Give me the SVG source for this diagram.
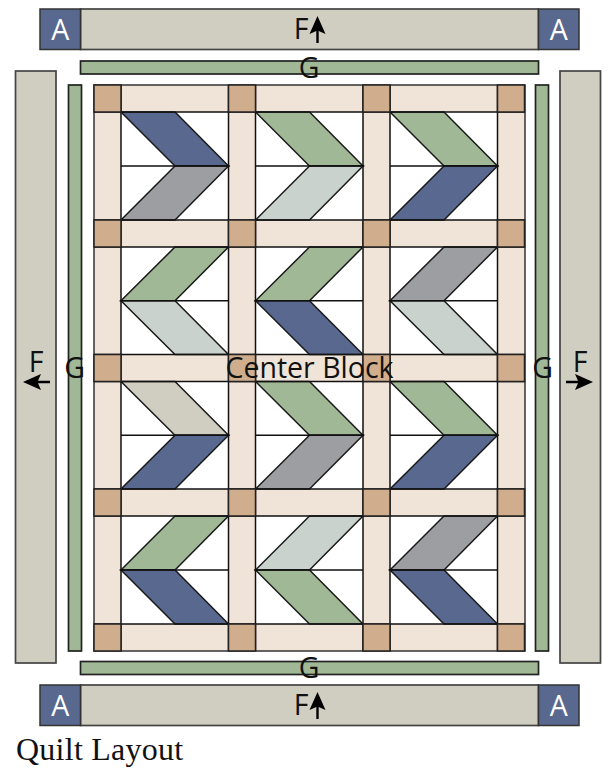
<svg xmlns="http://www.w3.org/2000/svg" xmlns:xlink="http://www.w3.org/1999/xlink" width="608" height="768" viewBox="0 0 608 768">
<style>
.s{stroke:#1a1a1a;stroke-width:1.500}
.g{stroke:#222;stroke-width:1.700;fill:#a0b896}
.b{stroke:#444;stroke-width:1.700;fill:#d0cdc1}
.n{fill:#58688f}.gr{fill:#a0b896}.y{fill:#9c9ea2}.l{fill:#c9d2cc}.e{fill:#d0cdc1}
.sash{fill:#f0e3d7;stroke:#333;stroke-width:1.500}
.cs{fill:#cfad8d;stroke:#222;stroke-width:1.500}
.t{font-family:"Open Sans",sans-serif;font-size:28.500px;fill:#111;text-anchor:middle}
.w{fill:#fff}
</style>
<defs>
<path id="up" d="M-1.200 11V-1L-8 2L0 -16L8 2L1.200 -1V11Z" fill="#000"/>
</defs>
<g id="border-top-f"><rect class="b" x="80.500" y="9" width="458" height="40.500"/></g>
<g id="border-top-a1"><rect x="40" y="9" width="40.500" height="40.500" class="n" stroke="#333" stroke-width="1.500"/><text x="60.300" y="40" class="t" style="fill:#fff">A</text></g>
<g id="border-top-a2"><rect x="538.500" y="9" width="40.500" height="40.500" class="n" stroke="#333" stroke-width="1.500"/><text x="558.800" y="40" class="t" style="fill:#fff">A</text></g>
<g id="border-bottom-f"><rect class="b" x="80.500" y="685" width="458" height="40.500"/></g>
<g id="border-bottom-a1"><rect x="40" y="685" width="40.500" height="40.500" class="n" stroke="#333" stroke-width="1.500"/><text x="60.300" y="716" class="t" style="fill:#fff">A</text></g>
<g id="border-bottom-a2"><rect x="538.500" y="685" width="40.500" height="40.500" class="n" stroke="#333" stroke-width="1.500"/><text x="558.800" y="716" class="t" style="fill:#fff">A</text></g>
<g id="border-left-f"><rect class="b" x="15.500" y="71" width="40.500" height="592"/></g>
<g id="border-right-f"><rect class="b" x="560" y="71" width="40.500" height="592"/></g>
<g id="border-top-g"><rect class="g" x="80.500" y="61" width="458" height="13"/></g>
<g id="border-bottom-g"><rect class="g" x="80.500" y="661.500" width="458" height="13"/></g>
<g id="border-left-g"><rect class="g" x="68.500" y="85" width="13" height="566"/></g>
<g id="border-right-g"><rect class="g" x="535.500" y="85" width="13" height="566"/></g>

<g id="center-block">
<rect x="94" y="85" width="431" height="566" class="sash"/>
<g id="blocks">
<rect x="121" y="112" width="107.500" height="108" class="w"/><rect x="255.500" y="112" width="107.500" height="108" class="w"/><rect x="390" y="112" width="107.500" height="108" class="w"/>
<rect x="121" y="247" width="107.500" height="107.500" class="w"/><rect x="255.500" y="247" width="107.500" height="107.500" class="w"/><rect x="390" y="247" width="107.500" height="107.500" class="w"/>
<rect x="121" y="381.500" width="107.500" height="107.500" class="w"/><rect x="255.500" y="381.500" width="107.500" height="107.500" class="w"/><rect x="390" y="381.500" width="107.500" height="107.500" class="w"/>
<rect x="121" y="516" width="107.500" height="108" class="w"/><rect x="255.500" y="516" width="107.500" height="108" class="w"/><rect x="390" y="516" width="107.500" height="108" class="w"/>
</g>
<g id="chevrons" class="s">
<path class="n" d="M121 112H175L228.500 166H175Z"/><path class="y" d="M175 166H228.500L175 220H121Z"/>
<path class="gr" d="M255.500 112H309.500L363 166H309.500Z"/><path class="l" d="M309.500 166H363L309.500 220H255.500Z"/>
<path class="gr" d="M390 112H444L497.500 166H444Z"/><path class="n" d="M444 166H497.500L444 220H390Z"/>

<path class="gr" d="M175 247H228.500L175 300.700H121Z"/><path class="l" d="M121 300.700H175L228.500 354.500H175Z"/>
<path class="gr" d="M309.500 247H363L309.500 300.700H255.500Z"/><path class="n" d="M255.500 300.700H309.500L363 354.500H309.500Z"/>
<path class="y" d="M444 247H497.500L444 300.700H390Z"/><path class="l" d="M390 300.700H444L497.500 354.500H444Z"/>

<path class="e" d="M121 381.500H175L228.500 435.300H175Z"/><path class="n" d="M175 435.300H228.500L175 489H121Z"/>
<path class="gr" d="M255.500 381.500H309.500L363 435.300H309.500Z"/><path class="y" d="M309.500 435.300H363L309.500 489H255.500Z"/>
<path class="gr" d="M390 381.500H444L497.500 435.300H444Z"/><path class="n" d="M444 435.300H497.500L444 489H390Z"/>

<path class="gr" d="M175 516H228.500L175 570H121Z"/><path class="n" d="M121 570H175L228.500 624H175Z"/>
<path class="l" d="M309.500 516H363L309.500 570H255.500Z"/><path class="gr" d="M255.500 570H309.500L363 624H309.500Z"/>
<path class="y" d="M444 516H497.500L444 570H390Z"/><path class="n" d="M390 570H444L497.500 624H444Z"/>
</g>
<g id="block-lines" fill="none" stroke="#111" stroke-width="1.500">
<path d="M121 166H228.500M255.500 166H363M390 166H497.500M121 300.700H228.500M255.500 300.700H363M390 300.700H497.500M121 435.300H228.500M255.500 435.300H363M390 435.300H497.500M121 570H228.500M255.500 570H363M390 570H497.500"/>
<path d="M94 112H525M94 220H525M94 247H525M94 354.500H525M94 381.500H525M94 489H525M94 516H525M94 624H525"/>
<path d="M121 85V651M228.500 85V651M255.500 85V651M363 85V651M390 85V651M497.500 85V651"/>
</g>
<g id="cornerstones">
<rect class="cs" x="94" y="85" width="27" height="27"/><rect class="cs" x="228.500" y="85" width="27" height="27"/><rect class="cs" x="363" y="85" width="27" height="27"/><rect class="cs" x="497.500" y="85" width="27" height="27"/>
<rect class="cs" x="94" y="220" width="27" height="27"/><rect class="cs" x="228.500" y="220" width="27" height="27"/><rect class="cs" x="363" y="220" width="27" height="27"/><rect class="cs" x="497.500" y="220" width="27" height="27"/>
<rect class="cs" x="94" y="354.500" width="27" height="27"/><rect class="cs" x="228.500" y="354.500" width="27" height="27"/><rect class="cs" x="363" y="354.500" width="27" height="27"/><rect class="cs" x="497.500" y="354.500" width="27" height="27"/>
<rect class="cs" x="94" y="489" width="27" height="27"/><rect class="cs" x="228.500" y="489" width="27" height="27"/><rect class="cs" x="363" y="489" width="27" height="27"/><rect class="cs" x="497.500" y="489" width="27" height="27"/>
<rect class="cs" x="94" y="624" width="27" height="27"/><rect class="cs" x="228.500" y="624" width="27" height="27"/><rect class="cs" x="363" y="624" width="27" height="27"/><rect class="cs" x="497.500" y="624" width="27" height="27"/>
</g>
<text x="309.500" y="378" class="t">Center Block</text>
</g>

<g id="labels">
<text x="301" y="39" class="t">F</text><use xlink:href="#up" href="#up" x="317.500" y="32"/>
<text x="301" y="715" class="t">F</text><use xlink:href="#up" href="#up" x="317.500" y="708"/>
<text x="309" y="78" class="t">G</text>
<text x="309" y="678" class="t">G</text>
<text x="74.500" y="378" class="t">G</text>
<text x="542.500" y="378" class="t">G</text>
<text x="36" y="372" class="t">F</text>
<use xlink:href="#up" href="#up" transform="translate(39 382) rotate(-90)"/>
<text x="580" y="372" class="t">F</text>
<use xlink:href="#up" href="#up" transform="translate(577 382) rotate(90)"/>
</g>
<text id="caption" x="16" y="760" style="font-family:'Liberation Serif',serif;font-size:32px;letter-spacing:.25px;fill:#111">Quilt Layout</text>
</svg>
